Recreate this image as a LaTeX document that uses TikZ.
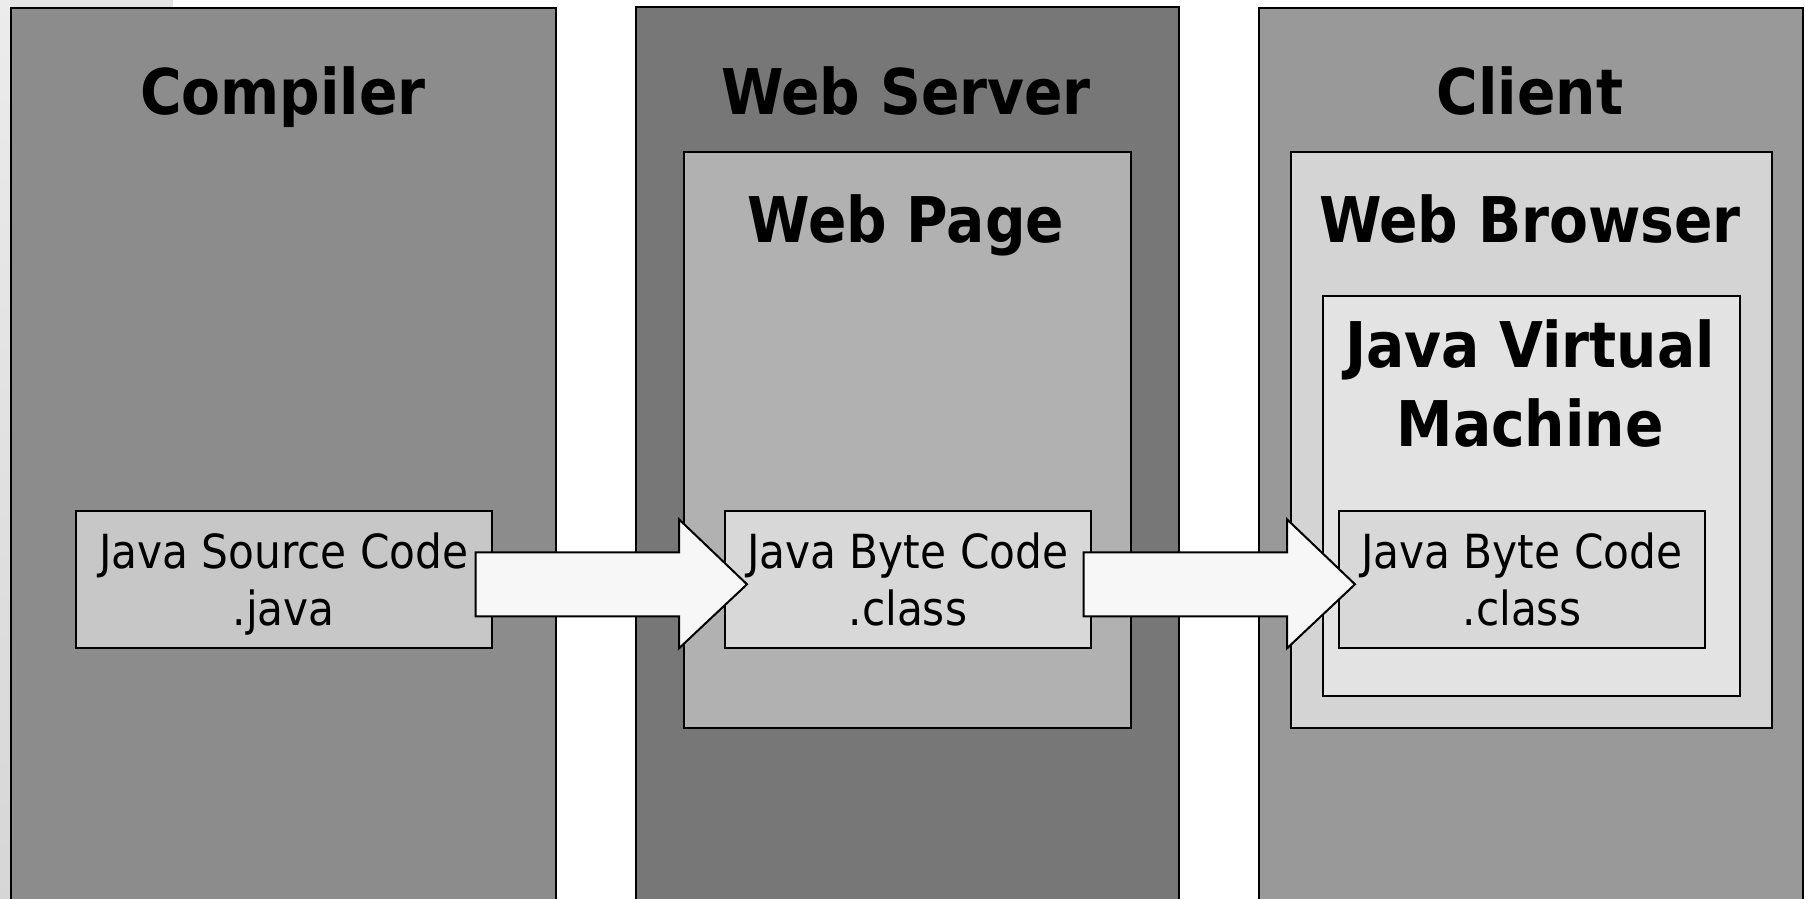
\documentclass[tikz,border=0pt]{standalone}
\usepackage{fontspec}
\setmainfont{DejaVu Sans Condensed}
\usetikzlibrary{calc}
\definecolor{compilerfill}{HTML}{8C8C8C}
\definecolor{serverfill}{HTML}{777777}
\definecolor{clientfill}{HTML}{999999}
\definecolor{pagefill}{HTML}{B1B1B1}
\definecolor{browserfill}{HTML}{D4D4D4}
\definecolor{jvmfill}{HTML}{E3E3E3}
\definecolor{srcfill}{HTML}{C7C7C7}
\definecolor{bytefill}{HTML}{D8D8D8}
\definecolor{arrowfill}{HTML}{F7F7F7}
\tikzset{
  frame/.style={draw=black, line width=1.6pt, inner sep=0pt, anchor=north west},
  title/.style={font=\bfseries\fontsize{63}{79}\selectfont, inner sep=0pt, align=center},
  codebox/.style={draw=black, line width=1.6pt, inner sep=0pt, anchor=north west,
    minimum height=137pt, align=center, font=\fontsize{47}{57}\selectfont},
  bigarrow/.style={draw=black, line width=2pt, fill=arrowfill, line join=miter}
}
\begin{document}
\begin{tikzpicture}[x=1pt, y=-1pt]
\useasboundingbox (0,0) rectangle (1805,899);
\clip (0,0) rectangle (1805,899);
\fill[white] (0,0) rectangle (1805,899);
\fill[gray!22] (0,0) rectangle (173,7);
\shade[top color=gray!15, bottom color=gray!32] (0,0) rectangle (10,899);

% columns
\node[frame, fill=compilerfill, minimum width=545pt, minimum height=913pt] (compiler) at (10,7) {};
\node[frame, fill=serverfill, minimum width=543pt, minimum height=914pt] (server) at (635,6) {};
\node[frame, fill=clientfill, minimum width=544pt, minimum height=913pt] (client) at (1258,7) {};

% inner containers
\node[frame, fill=pagefill, minimum width=447pt, minimum height=576pt] (page) at (683,151) {};
\node[frame, fill=browserfill, minimum width=481pt, minimum height=576pt] (browser) at (1290,151) {};
\node[frame, fill=jvmfill, minimum width=417pt, minimum height=400pt] (jvm) at (1322,295) {};

% titles
\node[title, anchor=base] (tcompiler) at (283,114) {Compiler};
\node[title, anchor=base] (tserver) at (906,114) {Web Server};
\node[title, anchor=base] (tclient) at (1530,114) {Client};
\node[title, anchor=base] (tpage) at (906,242) {Web Page};
\node[title, anchor=base] (tbrowser) at (1530,242) {Web Browser};
\node[title] (tjvm) at (1530,384) {Java Virtual\\Machine};

% code boxes
\node[codebox, fill=srcfill, minimum width=416pt] (src) at (75,510) {Java Source Code\\\smash{.java}};
\node[codebox, fill=bytefill, minimum width=366pt] (bc1) at (724,510) {Java Byte Code\\.class};
\node[codebox, fill=bytefill, minimum width=366pt] (bc2) at (1338,510) {Java Byte Code\\.class};

% arrows
\coordinate (a1tail) at ($(src.east)+(-17,5)$);
\coordinate (a1tip) at ($(bc1.west)+(23,5)$);
\coordinate (a2tail) at ($(bc1.east)+(-8,5)$);
\coordinate (a2tip) at ($(bc2.west)+(17,5)$);
\draw[bigarrow] ($(a1tail)+(0,-32)$) -- ($(a1tip)+(-68,-32)$) -- ($(a1tip)+(-68,-65)$)
  -- (a1tip) -- ($(a1tip)+(-68,64)$) -- ($(a1tip)+(-68,32)$) -- ($(a1tail)+(0,32)$) -- cycle;
\draw[bigarrow] ($(a2tail)+(0,-32)$) -- ($(a2tip)+(-68,-32)$) -- ($(a2tip)+(-68,-65)$)
  -- (a2tip) -- ($(a2tip)+(-68,64)$) -- ($(a2tip)+(-68,32)$) -- ($(a2tail)+(0,32)$) -- cycle;
\end{tikzpicture}
\end{document}
